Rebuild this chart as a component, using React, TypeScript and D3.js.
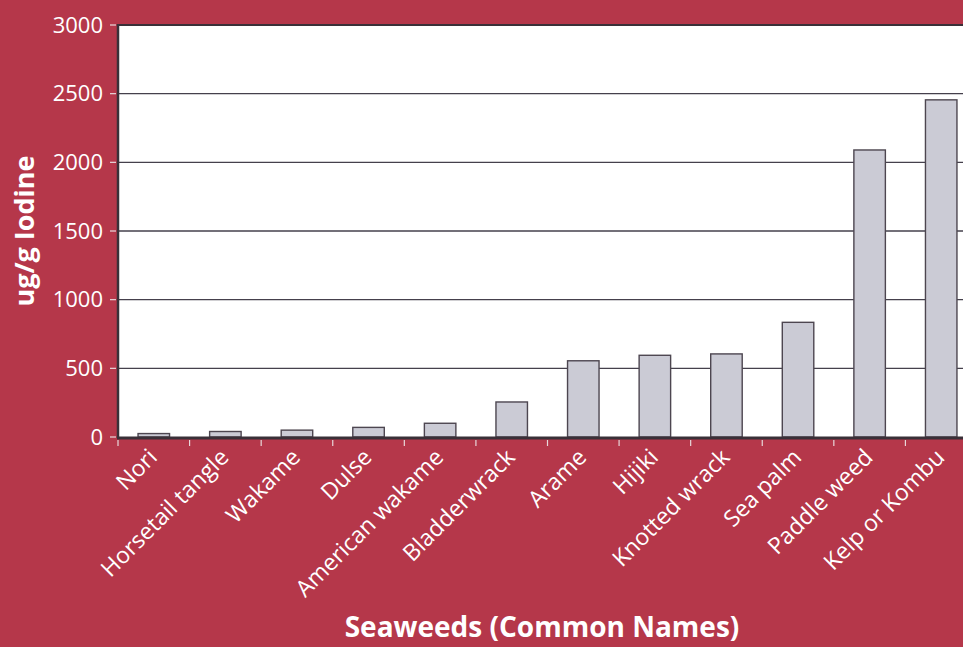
import React from "react";
import * as d3 from "d3";

const categories = [
  "Nori",
  "Horsetail tangle",
  "Wakame",
  "Dulse",
  "American wakame",
  "Bladderwrack",
  "Arame",
  "Hijiki",
  "Knotted wrack",
  "Sea palm",
  "Paddle weed",
  "Kelp or Kombu",
];
const iodine = [25, 40, 50, 70, 100, 255, 555, 595, 605, 835, 2090, 2455];
const yTicks = [0, 500, 1000, 1500, 2000, 2500, 3000];

const W = 963;
const H = 647;
const M = { left: 118, top: 25, right: 977, bottom: 437 };
const BG = "#b5374a";
const FONT = "'Open Sans', 'Noto Sans', sans-serif";

export default function App() {
  const x = d3
    .scaleBand<string>()
    .domain(categories)
    .range([M.left, M.right])
    .paddingInner(0.56)
    .paddingOuter(0.28);
  const y = d3.scaleLinear().domain([0, 3000]).range([M.bottom, M.top]);
  const step = x.step();
  const boundaries = categories.map((c) => (x(c) as number) - x.paddingInner() * step / 2);

  return (
    <svg
      width={W}
      height={H}
      style={{ position: "absolute", left: 0, top: 0, display: "block" }}
      fontFamily={FONT}
    >
      <rect x={0} y={0} width={W} height={H} fill={BG} />
      <rect x={M.left} y={M.top} width={M.right - M.left} height={M.bottom - M.top} fill="#ffffff" />
      {yTicks.slice(1, -1).map((t) => (
        <line key={"g" + t} x1={M.left} x2={W} y1={y(t)} y2={y(t)} stroke="#45404c" strokeWidth={1.3} />
      ))}
      {categories.map((c, i) => (
        <rect
          key={c}
          x={x(c)}
          y={y(iodine[i])}
          width={x.bandwidth()}
          height={M.bottom - y(iodine[i])}
          fill="#cbcbd5"
          stroke="#4d4650"
          strokeWidth={1.4}
        />
      ))}
      {/* top border */}
      <line x1={M.left} x2={W} y1={M.top} y2={M.top} stroke="#3a3038" strokeWidth={2} />
      {/* left axis */}
      <line x1={M.left} x2={M.left} y1={M.top - 1} y2={M.bottom + 1} stroke="#3a3038" strokeWidth={2.5} />
      {/* bottom axis */}
      <line x1={M.left - 1} x2={W} y1={M.bottom + 1} y2={M.bottom + 1} stroke="#3a3038" strokeWidth={3} />
      {yTicks.map((t) => (
        <g key={"t" + t}>
          <line x1={M.left - 8} x2={M.left - 2} y1={y(t)} y2={y(t)} stroke="#e8d8da" strokeWidth={1.2} />
          <text
            x={M.left - 15}
            y={y(t)}
            dy="0.35em"
            textAnchor="end"
            fill="#ffffff"
            fontSize={22}
          >
            {t}
          </text>
        </g>
      ))}
      {boundaries.map((bx, i) => (
        <line key={"xt" + i} x1={bx} x2={bx} y1={M.bottom + 3} y2={M.bottom + 9} stroke="#e8d8da" strokeWidth={1.2} />
      ))}
      {categories.map((c) => {
        const cx = (x(c) as number) + x.bandwidth() / 2 - 1;
        const cy = M.bottom + 16;
        return (
          <text
            key={"l" + c}
            transform={`translate(${cx},${cy}) rotate(-45)`}
            textAnchor="end"
            dy="0.35em"
            fill="#ffffff"
            fontSize={23}
          >
            {c}
          </text>
        );
      })}
      <text
        transform={`translate(34,${(M.top + M.bottom) / 2}) rotate(-90)`}
        textAnchor="middle"
        fill="#ffffff"
        fontSize={27}
        fontWeight="bold"
      >
        ug/g Iodine
      </text>
      <text x={542} y={637} textAnchor="middle" fill="#ffffff" fontSize={28} fontWeight="bold">
        Seaweeds (Common Names)
      </text>
    </svg>
  );
}
